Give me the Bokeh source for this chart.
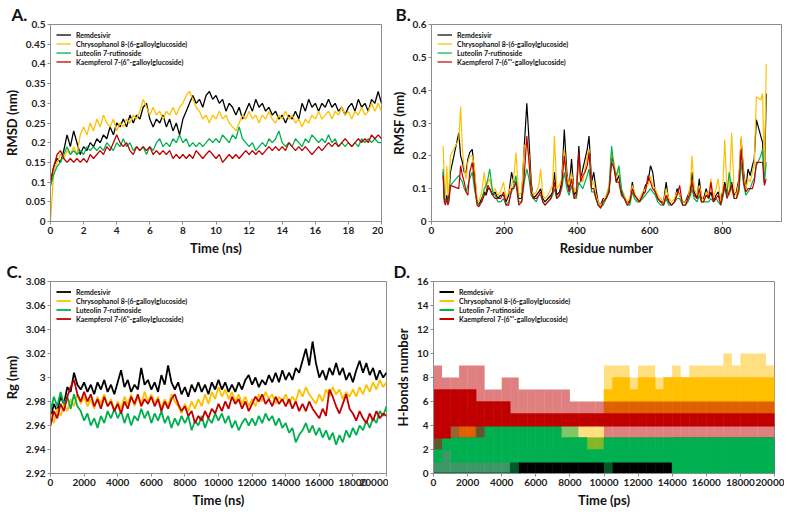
from bokeh.plotting import figure
from bokeh.layouts import column, row
from bokeh.models import Range1d, FixedTicker, NumeralTickFormatter, Legend, LegendItem
from bokeh.embed import file_html
from bokeh.resources import INLINE

FONT = "Lato"
C_BLACK, C_YEL, C_GRN, C_RED = "#000000", "#FFC000", "#00B050", "#C00000"
NAMES = ["Remdesivir", "Chrysophanol 8-(6-galloylglucoside)", "Luteolin 7-rutinoside",
         "Kaempferol 7-(6''-galloylglucoside)"]
NAMES_BD = NAMES[:3] + ["Kaempferol 7-(6'''-galloylglucoside)"]

# ---------------- Panel A: RMSD (nm) vs time (ns) ----------------
rmsd_time = [round(i * 0.2, 1) for i in range(101)]
rmsd_remdesivir = [
    0.10, 0.14, 0.16, 0.15, 0.18, 0.22, 0.19, 0.23, 0.20, 0.17,
    0.19, 0.18, 0.20, 0.19, 0.21, 0.20, 0.22, 0.21, 0.24, 0.22,
    0.25, 0.24, 0.26, 0.24, 0.27, 0.25, 0.27, 0.26, 0.29, 0.30,
    0.26, 0.24, 0.26, 0.25, 0.27, 0.24, 0.26, 0.23, 0.25, 0.22,
    0.26, 0.28, 0.30, 0.32, 0.30, 0.31, 0.29, 0.32, 0.33, 0.31,
    0.32, 0.30, 0.31, 0.28, 0.30, 0.29, 0.27, 0.29, 0.26, 0.28,
    0.30, 0.28, 0.31, 0.29, 0.30, 0.28, 0.29, 0.27, 0.28, 0.26,
    0.27, 0.25, 0.27, 0.26, 0.28, 0.26, 0.30, 0.28, 0.31, 0.29,
    0.30, 0.28, 0.30, 0.29, 0.31, 0.29, 0.30, 0.28, 0.29, 0.27,
    0.29, 0.30, 0.28, 0.31, 0.29, 0.30, 0.28, 0.31, 0.30, 0.33,
    0.30]
rmsd_chrysophanol = [
    0.00, 0.13, 0.15, 0.17, 0.16, 0.18, 0.17, 0.19, 0.17, 0.22,
    0.24, 0.22, 0.25, 0.23, 0.26, 0.24, 0.27, 0.25, 0.24, 0.26,
    0.23, 0.25, 0.24, 0.26, 0.25, 0.27, 0.26, 0.28, 0.31, 0.29,
    0.27, 0.29, 0.27, 0.28, 0.26, 0.28, 0.27, 0.29, 0.27, 0.29,
    0.30, 0.32, 0.33, 0.31, 0.29, 0.28, 0.26, 0.27, 0.25, 0.27,
    0.26, 0.28, 0.26, 0.27, 0.25, 0.24, 0.23, 0.25, 0.27, 0.26,
    0.28, 0.26, 0.27, 0.25, 0.27, 0.26, 0.28, 0.26, 0.25, 0.27,
    0.26, 0.28, 0.26, 0.27, 0.25, 0.26, 0.24, 0.26, 0.25, 0.27,
    0.26, 0.28, 0.26, 0.27, 0.28, 0.26, 0.28, 0.27, 0.29, 0.27,
    0.28, 0.26, 0.28, 0.27, 0.29, 0.27, 0.28, 0.30, 0.28, 0.30,
    0.28]
rmsd_luteolin = [
    0.09, 0.12, 0.14, 0.15, 0.17, 0.19, 0.17, 0.18, 0.17, 0.18,
    0.17, 0.19, 0.18, 0.19, 0.18, 0.19, 0.18, 0.20, 0.19, 0.18,
    0.20, 0.19, 0.21, 0.19, 0.20, 0.18, 0.19, 0.18, 0.19, 0.17,
    0.19, 0.18, 0.20, 0.21, 0.19, 0.20, 0.19, 0.21, 0.20, 0.22,
    0.20, 0.21, 0.19, 0.20, 0.19, 0.20, 0.19, 0.20, 0.21, 0.20,
    0.21, 0.20, 0.22, 0.21, 0.20, 0.22, 0.21, 0.24, 0.21, 0.20,
    0.19, 0.20, 0.18, 0.19, 0.20, 0.19, 0.21, 0.20, 0.21, 0.23,
    0.20, 0.19, 0.20, 0.19, 0.21, 0.20, 0.19, 0.21, 0.20, 0.22,
    0.21, 0.20, 0.21, 0.20, 0.22, 0.20, 0.21, 0.19, 0.20, 0.19,
    0.20, 0.19, 0.20, 0.19, 0.21, 0.20, 0.21, 0.20, 0.21, 0.20,
    0.20]
rmsd_kaempferol = [
    0.10, 0.14, 0.17, 0.18, 0.16, 0.15, 0.16, 0.15, 0.16, 0.15,
    0.16, 0.15, 0.17, 0.16, 0.17, 0.18, 0.17, 0.19, 0.18, 0.20,
    0.22, 0.20, 0.19, 0.20, 0.18, 0.17, 0.19, 0.18, 0.19, 0.18,
    0.19, 0.17, 0.18, 0.17, 0.18, 0.17, 0.18, 0.16, 0.17, 0.16,
    0.17, 0.16, 0.17, 0.16, 0.18, 0.17, 0.16, 0.17, 0.18, 0.17,
    0.16, 0.17, 0.15, 0.16, 0.17, 0.16, 0.17, 0.16, 0.17, 0.18,
    0.17, 0.18, 0.17, 0.18, 0.17, 0.18, 0.19, 0.18, 0.19, 0.18,
    0.19, 0.18, 0.20, 0.19, 0.18, 0.19, 0.18, 0.19, 0.18, 0.17,
    0.18, 0.19, 0.18, 0.19, 0.20, 0.19, 0.20, 0.19, 0.20, 0.21,
    0.20, 0.19, 0.20, 0.21, 0.20, 0.21, 0.20, 0.22, 0.21, 0.22,
    0.21]

# ---------------- Panel B: RMSF (nm) vs residue ----------------
rmsf_residue = [
    32, 35, 38, 42, 45, 48, 52, 75, 80, 85,
    90, 95, 100, 105, 112, 118, 125, 130, 138, 145,
    150, 155, 160, 168, 175, 182, 190, 198, 205, 212,
    220, 226, 232, 240, 248, 255, 262, 268, 274, 280,
    288, 295, 300, 306, 312, 320, 328, 333, 338, 344,
    352, 358, 365, 372, 378, 385, 392, 398, 405, 410,
    416, 422, 428, 433, 440, 446, 452, 458, 465, 472,
    480, 488, 495, 502, 508, 515, 522, 530, 538, 545,
    552, 558, 565, 572, 580, 588, 595, 602, 608, 615,
    622, 630, 638, 645, 652, 660, 668, 675, 682, 690,
    698, 705, 712, 716, 722, 730, 736, 742, 748, 755,
    762, 768, 775, 782, 788, 795, 800, 806, 812, 818,
    825, 832, 838, 845, 851, 858, 864, 870, 876, 882,
    887, 893, 905, 910, 915, 920]
rmsf_remdesivir = [
    0.15, 0.07, 0.06, 0.08, 0.06, 0.08, 0.15, 0.27, 0.20, 0.18,
    0.15, 0.15, 0.19, 0.21, 0.22, 0.15, 0.06, 0.05, 0.07, 0.09,
    0.08, 0.10, 0.10, 0.08, 0.09, 0.07, 0.08, 0.08, 0.06, 0.08,
    0.15, 0.12, 0.12, 0.07, 0.07, 0.23, 0.36, 0.25, 0.12, 0.07,
    0.08, 0.09, 0.10, 0.07, 0.06, 0.07, 0.08, 0.09, 0.15, 0.08,
    0.09, 0.12, 0.28, 0.15, 0.10, 0.19, 0.08, 0.09, 0.23, 0.13,
    0.16, 0.19, 0.22, 0.26, 0.12, 0.15, 0.10, 0.06, 0.05, 0.07,
    0.07, 0.09, 0.20, 0.17, 0.12, 0.14, 0.09, 0.07, 0.06, 0.06,
    0.12, 0.08, 0.07, 0.06, 0.08, 0.11, 0.12, 0.17, 0.15, 0.09,
    0.07, 0.06, 0.06, 0.12, 0.06, 0.05, 0.06, 0.10, 0.08, 0.06,
    0.06, 0.08, 0.10, 0.15, 0.09, 0.07, 0.13, 0.07, 0.07, 0.10,
    0.07, 0.09, 0.06, 0.08, 0.09, 0.06, 0.09, 0.12, 0.09, 0.08,
    0.12, 0.08, 0.09, 0.13, 0.25, 0.15, 0.10, 0.16, 0.14, 0.17,
    0.19, 0.31, 0.26, 0.24, 0.12, 0.39]
rmsf_chrysophanol = [
    0.23, 0.12, 0.07, 0.17, 0.08, 0.10, 0.20, 0.25, 0.35, 0.22,
    0.16, 0.13, 0.18, 0.20, 0.20, 0.17, 0.07, 0.06, 0.09, 0.15,
    0.10, 0.12, 0.13, 0.09, 0.10, 0.08, 0.09, 0.12, 0.07, 0.09,
    0.11, 0.13, 0.21, 0.08, 0.09, 0.23, 0.24, 0.20, 0.10, 0.08,
    0.09, 0.11, 0.16, 0.08, 0.07, 0.08, 0.10, 0.11, 0.26, 0.10,
    0.11, 0.13, 0.22, 0.14, 0.11, 0.15, 0.09, 0.10, 0.18, 0.14,
    0.12, 0.16, 0.20, 0.22, 0.11, 0.12, 0.08, 0.06, 0.05, 0.06,
    0.08, 0.11, 0.21, 0.18, 0.13, 0.16, 0.10, 0.08, 0.06, 0.07,
    0.11, 0.09, 0.06, 0.07, 0.09, 0.10, 0.11, 0.14, 0.11, 0.10,
    0.08, 0.07, 0.06, 0.10, 0.07, 0.06, 0.07, 0.09, 0.08, 0.06,
    0.06, 0.07, 0.12, 0.20, 0.10, 0.08, 0.11, 0.08, 0.06, 0.09,
    0.08, 0.13, 0.07, 0.10, 0.13, 0.06, 0.08, 0.25, 0.10, 0.08,
    0.27, 0.09, 0.08, 0.12, 0.26, 0.14, 0.10, 0.13, 0.12, 0.15,
    0.17, 0.38, 0.37, 0.39, 0.13, 0.48]
rmsf_luteolin = [
    0.16, 0.08, 0.06, 0.07, 0.06, 0.07, 0.11, 0.14, 0.13, 0.12,
    0.10, 0.09, 0.11, 0.13, 0.15, 0.10, 0.06, 0.05, 0.06, 0.10,
    0.11, 0.13, 0.16, 0.09, 0.08, 0.06, 0.06, 0.07, 0.05, 0.06,
    0.09, 0.11, 0.14, 0.06, 0.06, 0.12, 0.16, 0.13, 0.08, 0.07,
    0.06, 0.08, 0.08, 0.06, 0.05, 0.06, 0.07, 0.08, 0.10, 0.07,
    0.08, 0.10, 0.15, 0.10, 0.08, 0.11, 0.07, 0.07, 0.12, 0.11,
    0.10, 0.12, 0.14, 0.16, 0.09, 0.09, 0.07, 0.05, 0.045, 0.05,
    0.07, 0.10, 0.23, 0.16, 0.14, 0.17, 0.10, 0.07, 0.05, 0.05,
    0.09, 0.07, 0.06, 0.06, 0.07, 0.08, 0.09, 0.10, 0.09, 0.08,
    0.06, 0.05, 0.05, 0.07, 0.05, 0.05, 0.06, 0.07, 0.07, 0.05,
    0.05, 0.06, 0.08, 0.10, 0.07, 0.06, 0.08, 0.06, 0.06, 0.06,
    0.06, 0.07, 0.06, 0.07, 0.06, 0.05, 0.07, 0.10, 0.08, 0.15,
    0.10, 0.07, 0.07, 0.09, 0.18, 0.11, 0.08, 0.09, 0.10, 0.12,
    0.13, 0.17, 0.20, 0.22, 0.12, 0.18]
rmsf_kaempferol = [
    0.14, 0.06, 0.05, 0.07, 0.05, 0.06, 0.11, 0.10, 0.17, 0.14,
    0.12, 0.09, 0.08, 0.15, 0.18, 0.12, 0.05, 0.045, 0.06, 0.08,
    0.09, 0.11, 0.10, 0.08, 0.07, 0.07, 0.07, 0.09, 0.05, 0.05,
    0.10, 0.10, 0.12, 0.05, 0.06, 0.14, 0.26, 0.18, 0.09, 0.07,
    0.07, 0.08, 0.09, 0.06, 0.05, 0.06, 0.07, 0.09, 0.12, 0.07,
    0.08, 0.11, 0.20, 0.12, 0.09, 0.13, 0.07, 0.08, 0.21, 0.12,
    0.14, 0.15, 0.17, 0.21, 0.10, 0.10, 0.07, 0.05, 0.04, 0.06,
    0.07, 0.09, 0.18, 0.16, 0.12, 0.12, 0.08, 0.07, 0.05, 0.06,
    0.10, 0.08, 0.07, 0.06, 0.08, 0.09, 0.14, 0.12, 0.10, 0.09,
    0.07, 0.06, 0.05, 0.08, 0.06, 0.05, 0.06, 0.08, 0.11, 0.05,
    0.05, 0.07, 0.09, 0.12, 0.08, 0.07, 0.10, 0.06, 0.06, 0.08,
    0.07, 0.12, 0.06, 0.07, 0.08, 0.05, 0.08, 0.11, 0.07, 0.09,
    0.11, 0.07, 0.07, 0.10, 0.22, 0.12, 0.09, 0.10, 0.10, 0.10,
    0.12, 0.18, 0.18, 0.18, 0.11, 0.13]

# ---------------- Panel C: Rg (nm) vs time ----------------
rg_time = list(range(0, 20001, 200))
rg_remdesivir = [
    2.965, 2.978, 2.972, 2.984, 2.978, 2.992, 2.988, 3.004, 2.994, 2.990,
    2.996, 2.988, 2.994, 2.986, 2.996, 2.990, 2.998, 2.988, 2.994, 2.986,
    2.996, 3.006, 2.992, 2.998, 2.988, 2.994, 2.990, 3.008, 2.994, 2.998,
    2.990, 2.996, 2.988, 3.002, 2.994, 3.010, 2.996, 2.990, 2.996, 2.986,
    2.992, 2.984, 2.994, 2.988, 2.996, 2.988, 2.994, 2.986, 2.996, 2.990,
    2.998, 2.990, 2.996, 2.988, 2.994, 2.988, 2.996, 2.990, 2.998, 3.002,
    2.994, 3.000, 2.992, 2.998, 2.994, 3.002, 2.996, 3.004, 2.996, 3.006,
    2.998, 3.004, 2.998, 3.008, 3.004, 3.014, 3.024, 3.010, 3.030, 3.012,
    3.000, 3.006, 2.998, 3.008, 3.002, 3.012, 3.002, 3.008, 2.998, 3.004,
    2.996, 3.006, 3.014, 3.004, 3.012, 3.002, 3.008, 2.998, 3.006, 3.000,
    3.004]
rg_chrysophanol = [
    2.970, 2.962, 2.974, 2.968, 2.978, 2.972, 2.982, 2.976, 2.986, 2.978,
    2.984, 2.976, 2.982, 2.974, 2.984, 2.978, 2.986, 2.976, 2.982, 2.972,
    2.980, 2.974, 2.984, 2.978, 2.986, 2.976, 2.984, 2.978, 2.988, 2.980,
    2.986, 2.978, 2.984, 2.974, 2.982, 2.976, 2.986, 2.980, 2.976, 2.970,
    2.978, 2.972, 2.980, 2.974, 2.982, 2.976, 2.986, 2.978, 2.988, 2.982,
    2.992, 2.984, 2.990, 2.982, 2.988, 2.980, 2.986, 2.978, 2.984, 2.976,
    2.982, 2.976, 2.986, 2.980, 2.988, 2.982, 2.986, 2.978, 2.984, 2.980,
    2.986, 2.978, 2.984, 2.980, 2.990, 2.984, 2.992, 2.986, 2.982, 2.978,
    2.986, 2.980, 2.990, 2.984, 2.992, 2.986, 2.990, 2.982, 2.988, 2.984,
    2.990, 2.984, 2.992, 2.986, 2.994, 2.988, 2.996, 2.990, 2.998, 2.992,
    2.996]
rg_luteolin = [
    2.972, 2.984, 2.976, 2.988, 2.978, 2.984, 2.974, 2.986, 2.976, 2.972,
    2.964, 2.970, 2.960, 2.966, 2.958, 2.968, 2.962, 2.972, 2.966, 2.974,
    2.966, 2.972, 2.962, 2.970, 2.960, 2.968, 2.964, 2.974, 2.966, 2.972,
    2.962, 2.970, 2.964, 2.972, 2.962, 2.968, 2.958, 2.966, 2.960, 2.968,
    2.962, 2.968, 2.956, 2.964, 2.960, 2.968, 2.958, 2.966, 2.962, 2.970,
    2.964, 2.970, 2.962, 2.968, 2.958, 2.964, 2.956, 2.962, 2.966, 2.960,
    2.966, 2.960, 2.968, 2.962, 2.970, 2.964, 2.968, 2.960, 2.966, 2.958,
    2.962, 2.954, 2.958, 2.946, 2.952, 2.956, 2.962, 2.954, 2.960, 2.952,
    2.958, 2.950, 2.956, 2.948, 2.954, 2.944, 2.952, 2.946, 2.956, 2.950,
    2.958, 2.952, 2.960, 2.956, 2.964, 2.958, 2.966, 2.962, 2.972, 2.968,
    2.976]
rg_kaempferol = [
    2.960, 2.972, 2.966, 2.978, 2.972, 2.984, 2.992, 2.998, 2.986, 2.980,
    2.988, 2.980, 2.986, 2.976, 2.982, 2.974, 2.984, 2.976, 2.980, 2.972,
    2.978, 2.970, 2.980, 2.974, 2.984, 2.978, 2.986, 2.976, 2.982, 2.978,
    2.984, 2.976, 2.982, 2.972, 2.980, 2.974, 2.982, 2.986, 2.978, 2.972,
    2.976, 2.968, 2.972, 2.962, 2.968, 2.964, 2.972, 2.966, 2.974, 2.970,
    2.978, 2.972, 2.980, 2.974, 2.984, 2.978, 2.982, 2.974, 2.980, 2.972,
    2.978, 2.984, 2.980, 2.986, 2.978, 2.982, 2.976, 2.984, 2.978, 2.982,
    2.976, 2.982, 2.974, 2.980, 2.972, 2.978, 2.972, 2.980, 2.974, 2.970,
    2.966, 2.974, 2.968, 2.990, 2.984, 2.976, 2.970, 2.978, 2.986, 2.974,
    2.970, 2.964, 2.972, 2.966, 2.962, 2.970, 2.964, 2.972, 2.966, 2.970,
    2.968]

# ---------------- Panel D: H-bond counts per 500 ps window ----------------
hb_bin_start = list(range(0, 20000, 500))
hb_bin_end = [t + 500 for t in hb_bin_start]
# occasional minimum, frequent range (lo..hi), occasional maximum
hb_remdesivir_min = [0,0,0,0,0,0,0,0,0,0, 0,0,0,0,0,0,0,0,0,0, 0,0,0,0,0,0,0,0,0,0, 0,0,0,0,0,0,0,0,0,0]
hb_remdesivir_lo  = [0,0,0,0,0,0,0,0,0,0, 0,0,0,0,0,0,0,0,0,0, 0,0,0,0,0,0,0,0,0,0, 0,0,0,0,0,0,0,0,0,0]
hb_remdesivir_hi  = [0,0,0,0,0,0,0,0,0,1, 1,1,1,1,1,1,1,1,1,1, 1,1,1,1,1,1,1,1,0,0, 0,0,0,0,0,0,0,0,0,0]
hb_remdesivir_max = [3,3,1,1,1,1,1,1,1,1, 2,2,2,2,2,2,2,2,2,2, 2,2,2,2,2,2,2,2,3,3, 3,3,3,3,3,3,3,3,3,3]
hb_chrysophanol_min = [2,2,2,2,2,2,2,2,2,2, 2,2,2,2,2,2,2,2,2,2, 5,5,5,5,5,5,5,5,5,5, 5,5,5,5,5,5,5,5,5,5]
hb_chrysophanol_lo  = [3,3,3,3,3,2,2,2,2,2, 2,2,2,2,2,2,2,2,2,2, 5,5,5,5,5,5,5,5,5,5, 5,5,5,5,5,5,5,5,5,5]
hb_chrysophanol_hi  = [3,3,3,5,5,2,2,2,2,2, 2,2,2,2,2,2,3,3,3,3, 7,8,8,7,8,8,7,8,8,8, 8,8,8,8,8,8,8,8,8,8]
hb_chrysophanol_max = [5,5,5,5,5,5,5,5,5,5, 5,5,5,5,5,5,5,5,5,5, 9,9,9,8,9,9,8,8,9,8, 9,9,9,9,10,9,10,10,10,9]
hb_luteolin_min = [0,0,0,0,0,0,0,0,0,0, 1,1,1,1,1,1,1,1,1,1, 0,1,1,1,1,1,1,1,0,0, 0,0,0,0,0,0,0,0,0,0]
hb_luteolin_lo  = [1,2,1,1,1,1,1,1,1,1, 1,1,1,1,1,1,1,1,1,1, 1,1,1,1,1,1,1,1,0,0, 0,0,0,0,0,0,0,0,0,0]
hb_luteolin_hi  = [3,3,3,3,3,4,4,4,4,4, 4,4,4,4,4,3,3,3,2,2, 3,3,3,3,3,3,3,3,3,3, 3,3,3,3,3,3,3,3,3,3]
hb_luteolin_max = [4,4,4,3,3,4,4,4,4,4, 4,4,4,4,4,4,4,3,3,3, 3,3,3,3,3,3,3,3,3,3, 3,3,3,3,3,3,3,3,3,3]
hb_kaempferol_min = [2,3,3,3,3,3,4,4,4,4, 4,4,4,4,4,4,4,4,4,4, 3,3,3,3,3,3,3,3,3,3, 3,3,3,3,3,3,3,3,3,3]
hb_kaempferol_lo  = [3,3,4,4,4,4,4,4,4,4, 4,4,4,4,4,4,4,4,4,4, 4,4,4,4,4,4,4,4,4,4, 4,4,4,4,4,4,4,4,4,4]
hb_kaempferol_hi  = [7,7,7,7,7,6,6,6,6,5, 5,5,5,5,5,5,5,5,5,5, 5,5,5,5,5,5,5,5,5,5, 5,5,5,5,5,5,5,5,5,5]
hb_kaempferol_max = [9,8,8,9,9,9,7,7,8,8, 7,7,7,7,7,7,6,6,6,6, 6,6,6,6,6,6,6,6,6,6, 6,6,6,6,6,6,6,6,6,6]

for arr in (rmsf_remdesivir, rmsf_chrysophanol, rmsf_luteolin, rmsf_kaempferol):
    assert len(arr) == len(rmsf_residue), len(arr)
for arr in (rmsd_remdesivir, rmsd_chrysophanol, rmsd_luteolin, rmsd_kaempferol):
    assert len(arr) == len(rmsd_time), len(arr)
for arr in (rg_remdesivir, rg_chrysophanol, rg_luteolin, rg_kaempferol):
    assert len(arr) == len(rg_time), len(arr)


def make_fig(width, height, borders, xr, yr, xticks, yticks, xlabel, ylabel, yfmt, tag, tag_offset):
    bl, br, bt, bb = borders
    p = figure(width=width, height=height, x_range=Range1d(*xr), y_range=Range1d(*yr),
               output_backend="svg", toolbar_location=None,
               min_border_left=bl, min_border_right=br, min_border_top=bt, min_border_bottom=bb)
    p.title.text = tag
    p.title.text_font = FONT
    p.title.text_font_size = "17px"
    p.title.text_font_style = "bold"
    p.title.text_color = "#111111"
    p.title.align = "left"
    p.title.offset = tag_offset
    p.title.standoff = 0
    p.xgrid.visible = False
    p.ygrid.visible = False
    p.outline_line_color = "#8c8c8c"
    p.xaxis.ticker = FixedTicker(ticks=xticks)
    p.yaxis.ticker = FixedTicker(ticks=yticks)
    if yfmt:
        p.yaxis.formatter = NumeralTickFormatter(format=yfmt)
    p.xaxis.axis_label = xlabel
    p.yaxis.axis_label = ylabel
    for ax in (p.xaxis[0], p.yaxis[0]):
        ax.axis_line_color = "#8c8c8c"
        ax.major_tick_line_color = "#8c8c8c"
        ax.major_tick_out = 3
        ax.major_tick_in = 0
        ax.minor_tick_line_color = None
        ax.major_label_text_font = FONT
        ax.major_label_text_font_size = "10px"
        ax.major_label_text_font_style = "bold"
        ax.major_label_text_color = "#222222"
        ax.major_label_standoff = 2
        ax.axis_label_text_font = FONT
        ax.axis_label_text_font_size = "13px"
        ax.axis_label_text_font_style = "bold"
        ax.axis_label_text_color = "#111111"
        ax.axis_label_standoff = 3
    return p


def add_legend(p, renderers, names):
    leg = Legend(items=[LegendItem(label=n, renderers=[r]) for n, r in zip(names, renderers)],
                 location="top_left")
    leg.label_text_font = FONT
    leg.label_text_font_size = "7px"
    leg.label_text_font_style = "bold"
    leg.label_text_color = "#111111"
    leg.label_height = 9
    leg.glyph_height = 9
    leg.glyph_width = 15
    leg.spacing = 0
    leg.padding = 2
    leg.margin = 4
    leg.label_standoff = 5
    leg.border_line_alpha = 0
    leg.background_fill_alpha = 0
    p.add_layout(leg)


COLS = [C_BLACK, C_YEL, C_GRN, C_RED]

# ---- A ----
pA = make_fig(383, 258, (41, 2, 23, 36), (0, 20), (0, 0.5), list(range(0, 21, 2)),
              [0, 0.05, 0.1, 0.15, 0.2, 0.25, 0.3, 0.35, 0.4, 0.45, 0.5],
              "Time (ns)", "RMSD (nm)", "0.[00]", "A.", -39)
rA = [pA.line(rmsd_time, s, color=c, line_width=1.3)
      for s, c in zip([rmsd_remdesivir, rmsd_chrysophanol, rmsd_luteolin, rmsd_kaempferol], COLS)]
add_legend(pA, rA, NAMES)

# ---- B ----
pB = make_fig(402, 258, (48, 4, 24, 36), (0, 962), (0, 0.6), [0, 200, 400, 600, 800],
              [0, 0.1, 0.2, 0.3, 0.4, 0.5, 0.6], "Residue number", "RMSF (nm)", "0.[0]", "B.", -36)
rB = [pB.line(rmsf_residue, s, color=c, line_width=1.2)
      for s, c in zip([rmsf_remdesivir, rmsf_chrysophanol, rmsf_luteolin, rmsf_kaempferol], COLS)]
add_legend(pB, rB, NAMES_BD)

# ---- C ----
pC = make_fig(388, 252, (46, 2, 18, 36), (0, 20000), (2.92, 3.08), list(range(0, 20001, 2000)),
              [2.92, 2.94, 2.96, 2.98, 3.0, 3.02, 3.04, 3.06, 3.08], "Time (ns)", "Rg (nm)",
              "0.[00]", "C.", -44)
rC = [pC.line(rg_time, s, color=c, line_width=1.8)
      for s, c in zip([rg_remdesivir, rg_chrysophanol, rg_luteolin, rg_kaempferol], COLS)]
add_legend(pC, rC, NAMES)

# ---- D ----
pD = make_fig(396, 252, (45, 10, 19, 36), (0, 20000), (0, 16), list(range(0, 20001, 2000)),
              list(range(0, 17, 2)), "Time (ps)", "H-bonds number", None, "D.", -40)
series_D = [
    (hb_remdesivir_min, hb_remdesivir_lo, hb_remdesivir_hi, hb_remdesivir_max, C_BLACK),
    (hb_chrysophanol_min, hb_chrysophanol_lo, hb_chrysophanol_hi, hb_chrysophanol_max, C_YEL),
    (hb_luteolin_min, hb_luteolin_lo, hb_luteolin_hi, hb_luteolin_max, C_GRN),
    (hb_kaempferol_min, hb_kaempferol_lo, hb_kaempferol_hi, hb_kaempferol_max, C_RED),
]
rD = []
for mn, lo, hi, mx, c in series_D:
    # lower edge of the frequent range, drawn as horizontal segments (also the legend glyph)
    rD.append(pD.segment(x0=hb_bin_start, y0=lo, x1=hb_bin_end, y1=lo, color=c, line_width=2))
    pD.quad(left=hb_bin_start, right=hb_bin_end, bottom=mn, top=lo, fill_color=c, fill_alpha=0.5, line_color=None)
    pD.quad(left=hb_bin_start, right=hb_bin_end, bottom=hi, top=mx, fill_color=c, fill_alpha=0.5, line_color=None)
    pD.quad(left=hb_bin_start, right=hb_bin_end, bottom=lo, top=hi, fill_color=c, fill_alpha=1.0,
            line_color=c, line_width=0.6)
add_legend(pD, rD, NAMES_BD)

layout = column(row(pA, pB), row(pC, pD))
open("out.html", "w").write(file_html(layout, INLINE))
